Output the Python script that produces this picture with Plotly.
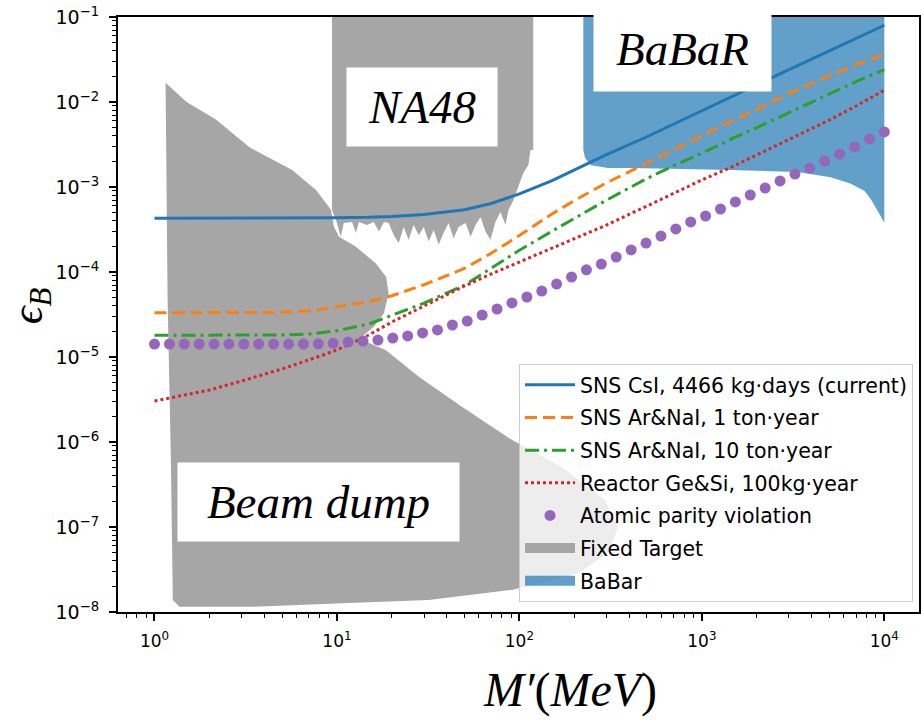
import plotly.graph_objects as go

# ---------------- data ----------------
M_lines = [1, 1.5, 2, 3, 5, 7, 10, 15, 20, 30, 50, 70, 100, 150, 200, 300, 500, 700,
           1000, 1500, 2000, 3000, 5000, 7000, 10000]
sns_csi = [4.3e-4, 4.3e-4, 4.3e-4, 4.3e-4, 4.3e-4, 4.3e-4, 4.35e-4, 4.4e-4, 4.5e-4, 4.75e-4,
           5.4e-4, 6.4e-4, 8.3e-4, 1.18e-3, 1.58e-3, 2.4e-3, 3.9e-3, 5.5e-3,
           7.8e-3, 1.18e-2, 1.58e-2, 2.4e-2, 4.0e-2, 5.6e-2, 8.0e-2]
sns_1ton = [3.31e-5, 3.31e-5, 3.31e-5, 3.33e-5, 3.35e-5, 3.47e-5, 3.89e-5, 4.47e-5, 5.25e-5, 7.08e-5,
            1.10e-4, 1.66e-4, 2.69e-4, 4.79e-4, 6.92e-4, 1.12e-3, 1.91e-3, 2.75e-3,
            3.98e-3, 6.17e-3, 8.22e-3, 1.26e-2, 2.04e-2, 2.75e-2, 3.63e-2]
sns_10ton = [1.8e-5, 1.8e-5, 1.8e-5, 1.8e-5, 1.82e-5, 1.86e-5, 2.04e-5, 2.45e-5, 3.1e-5, 4.3e-5,
             7.0e-5, 1.1e-4, 1.8e-4, 3.0e-4, 4.3e-4, 7.0e-4, 1.26e-3, 1.78e-3,
             2.5e-3, 3.8e-3, 5.0e-3, 7.5e-3, 1.26e-2, 1.74e-2, 2.4e-2]
reactor = [3.03e-6, 3.57e-6, 4.09e-6, 5.22e-6, 7.23e-6, 9.23e-6, 1.21e-5, 1.82e-5, 2.58e-5, 3.98e-5,
           6.84e-5, 9.47e-5, 1.31e-4, 1.87e-4, 2.45e-4, 3.57e-4, 5.97e-4, 8.49e-4,
           1.21e-3, 1.77e-3, 2.38e-3, 3.57e-3, 6.14e-3, 8.98e-3, 1.38e-2]

M_apv = [1.0, 1.207, 1.456, 1.758, 2.121, 2.56, 3.089, 3.728, 4.498, 5.429,
         6.551, 7.906, 9.541, 11.51, 13.89, 16.77, 20.24, 24.42, 29.47, 35.56,
         42.92, 51.79, 62.51, 75.43, 91.03, 109.9, 132.6, 160.0, 193.1, 233.0,
         281.2, 339.3, 409.5, 494.2, 596.4, 719.7, 868.5, 1048.1, 1264.9, 1526.4,
         1842.1, 2223.0, 2682.7, 3237.5, 3906.9, 4714.9, 5689.9, 6866.5, 8286.4, 10000.0]
apv = [1.42e-5, 1.42e-5, 1.42e-5, 1.42e-5, 1.42e-5, 1.42e-5, 1.42e-5, 1.42e-5, 1.42e-5, 1.42e-5,
       1.42e-5, 1.43e-5, 1.45e-5, 1.50e-5, 1.54e-5, 1.58e-5, 1.67e-5, 1.77e-5, 1.92e-5, 2.08e-5,
       2.38e-5, 2.65e-5, 3.12e-5, 3.67e-5, 4.32e-5, 5.08e-5, 5.97e-5, 7.22e-5, 8.73e-5, 1.06e-4,
       1.24e-4, 1.50e-4, 1.82e-4, 2.19e-4, 2.65e-4, 3.21e-4, 3.88e-4, 4.56e-4, 5.51e-4, 6.67e-4,
       8.05e-4, 9.73e-4, 1.18e-3, 1.42e-3, 1.67e-3, 2.02e-3, 2.44e-3, 2.96e-3, 3.67e-3, 4.44e-3]

# Fixed target: beam-dump contour, then NA48 contour (None separates them)
beam_M = [1.15, 1.50, 2.18, 3.30, 5.68, 7.68, 9.27, 9.63, 10.26, 12.65, 16.3, 18.6, 19.2,
          18.1, 15.9, 13.7, 13.7, 18.5, 28.1, 48.4, 90.8, 170, 294, 348, 306, 210, 90.8,
          31.8, 11.6, 3.43, 1.37, 1.26, 1.23, 1.18, 1.15]
beam_eps = [1.68e-2, 1.0e-2, 6.2e-3, 2.95e-3, 1.58e-3, 9.2e-4, 5.4e-4, 3.41e-4, 2.6e-4, 1.99e-4,
            1.27e-4, 8.8e-5, 5.6e-5, 3.27e-5, 2.27e-5, 1.73e-5, 1.58e-5, 1.21e-5, 5.86e-6,
            2.6e-6, 1.06e-6, 5.13e-7, 2.08e-7, 1.01e-7, 4.9e-8, 2.85e-8, 1.82e-8, 1.38e-8,
            1.28e-8, 1.15e-8, 1.15e-8, 1.38e-8, 6.1e-7, 4.7e-5, 1.68e-2]
na48_M = [9.39, 9.39, 9.63, 9.88, 10.5, 10.9, 12.1, 12.7, 13.2, 14.6, 15.9, 17.0, 18.1, 19.2,
          20.5, 21.8, 23.2, 24.7, 26.3, 28.1, 29.9, 31.8, 33.9, 36.1, 38.4, 40.9, 43.6, 46.4,
          50.7, 54.0, 57.5, 61.2, 65.2, 69.4, 73.9, 78.7, 83.8, 87.1, 92.7, 98.8, 105, 112,
          115, 119, 119]
na48_eps = [1.0, 5.36e-4, 4.69e-4, 4.09e-4, 2.6e-4, 3.77e-4, 3.88e-4, 2.9e-4, 3.88e-4,
            3.57e-4, 3.88e-4, 3.0e-4, 3.88e-4, 3.77e-4, 2.7e-4, 2.2e-4, 3.38e-4, 2.4e-4,
            3.57e-4, 2.7e-4, 3.38e-4, 2.3e-4, 3.12e-4, 2.1e-4, 2.88e-4, 3.77e-4, 2.5e-4,
            3.38e-4, 3.77e-4, 2.6e-4, 3.57e-4, 4.44e-4, 3.0e-4, 2.4e-4, 3.88e-4, 5.08e-4,
            3.6e-4, 5.36e-4, 7.0e-4, 1.0e-3, 1.46e-3, 1.82e-3, 2.72e-3, 2.72e-3, 1.0]

babar_M = [224, 224, 229, 247, 306, 409, 1440, 3350, 5070, 6500, 7800, 8500, 9300, 10000, 10000]
babar_eps = [1.0, 2.72e-3, 2.19e-3, 1.8e-3, 1.67e-3, 1.67e-3, 1.58e-3, 1.5e-3, 1.3e-3,
             1.1e-3, 9.0e-4, 7.0e-4, 5.0e-4, 3.8e-4, 1.0]

x_tickvals = [1, 10, 100, 1000, 10000]
x_ticktext = ["10<sup>0</sup>", "10<sup>1</sup>", "10<sup>2</sup>", "10<sup>3</sup>", "10<sup>4</sup>"]
y_tickvals = [1e-8, 1e-7, 1e-6, 1e-5, 1e-4, 1e-3, 1e-2, 1e-1]
y_ticktext = ["10<sup>−8</sup>", "10<sup>−7</sup>", "10<sup>−6</sup>", "10<sup>−5</sup>",
              "10<sup>−4</sup>", "10<sup>−3</sup>", "10<sup>−2</sup>", "10<sup>−1</sup>"]

names = ["SNS CsI, 4466 kg·days (current)", "SNS Ar&NaI, 1 ton·year",
         "SNS Ar&NaI, 10 ton·year", "Reactor Ge&Si, 100kg·year",
         "Atomic parity violation", "Fixed Target", "BaBar"]

GRAY = "#a6a6a6"
BABAR = "rgba(31,119,180,0.7)"

# ---------------- layout helpers ----------------
W, H = 921, 724
PL, PR, PT, PB = 118, 921, 17, 612


def px(x):
    return (x - PL) / (PR - PL)


def py(y):
    return (PB - y) / (PB - PT)


fig = go.Figure()

fig.add_trace(go.Scatter(x=beam_M + [None] + na48_M, y=beam_eps + [None] + na48_eps,
                         mode="lines", fill="toself", fillcolor=GRAY,
                         line=dict(width=0, color=GRAY), showlegend=False, hoverinfo="skip"))
fig.add_trace(go.Scatter(x=babar_M, y=babar_eps, mode="lines", fill="toself",
                         fillcolor=BABAR, line=dict(width=0, color=BABAR),
                         showlegend=False, hoverinfo="skip"))

fig.add_trace(go.Scatter(x=M_lines, y=sns_csi, mode="lines", name=names[0],
                         line=dict(color="#1f77b4", width=3),
                         legendgroup="g1", legendrank=1))
fig.add_trace(go.Scatter(x=M_lines, y=sns_1ton, mode="lines", name=names[1],
                         line=dict(color="#ff7f0e", width=3, dash="12px,6px"),
                         legendgroup="g2", legendrank=2))
fig.add_trace(go.Scatter(x=M_lines, y=sns_10ton, mode="lines", name=names[2],
                         line=dict(color="#2ca02c", width=3, dash="14px,5px,3px,5px"),
                         legendgroup="g3", legendrank=3))
fig.add_trace(go.Scatter(x=M_lines, y=reactor, mode="lines", name=names[3],
                         line=dict(color="#d62728", width=3, dash="3px,3px"),
                         legendgroup="g4", legendrank=4))
fig.add_trace(go.Scatter(x=M_apv, y=apv, mode="markers", name=names[4],
                         marker=dict(color="#9467bd", size=11),
                         legendgroup="g5", legendrank=5))
# legend patches for the filled regions
fig.add_trace(go.Scatter(x=[None], y=[None], mode="lines", name=names[5],
                         line=dict(color=GRAY, width=17), legendgroup="g6", legendrank=6))
fig.add_trace(go.Scatter(x=[None], y=[None], mode="lines", name=names[6],
                         line=dict(color=BABAR, width=17), legendgroup="g7", legendrank=7))

axis_common = dict(type="log", showline=True, linecolor="black", linewidth=2, mirror=True,
                   ticks="outside", ticklen=7, tickwidth=1.5, tickcolor="black",
                   showgrid=False, zeroline=False, ticklabelstandoff=6)

minor_x = [m * 10 ** k for k in range(-1, 5) for m in range(2, 10)]
minor_y = [m * 10.0 ** k for k in range(-9, 0) for m in range(2, 10)]

fig.update_xaxes(**axis_common, range=[-0.2, 4.19], tickmode="array",
                 tickvals=x_tickvals, ticktext=x_ticktext,
                 tickfont=dict(family="DejaVu Sans", size=17, color="black"),
                 minor=dict(tickmode="array", tickvals=minor_x, ticks="outside",
                            ticklen=4, tickwidth=1, tickcolor="black", showgrid=False))
fig.update_yaxes(**axis_common, range=[-8, -1], tickmode="array",
                 tickvals=y_tickvals, ticktext=y_ticktext,
                 tickfont=dict(family="DejaVu Sans", size=19, color="black"),
                 minor=dict(tickmode="array", tickvals=minor_y, ticks="outside",
                            ticklen=4, tickwidth=1, tickcolor="black", showgrid=False))

serif = "Liberation Serif, DejaVu Serif, serif"
annotations = [
    dict(text="<i>NA48</i>", x=px(423), y=py(107), width=150, height=78),
    dict(text="<i>BaBaR</i>", x=px(683.5), y=py(49), width=177, height=84),
    dict(text="<i>Beam dump</i>", x=px(318.5), y=py(502), width=281, height=78),
]
for a in annotations:
    fig.add_annotation(xref="paper", yref="paper", showarrow=False, bgcolor="white",
                       borderpad=0, font=dict(family=serif, size=47, color="black"),
                       xanchor="center", yanchor="middle", **a)

fig.add_annotation(xref="paper", yref="paper", x=px(571), y=py(690), showarrow=False,
                   text="<i>M′</i>(<i>MeV</i>)", font=dict(family=serif, size=48, color="black"),
                   xanchor="center", yanchor="middle")
fig.add_annotation(xref="paper", yref="paper", x=px(30), y=py(306), showarrow=False,
                   text="<i>ϵ<sub>B</sub></i>", textangle=-90,
                   font=dict(family=serif, size=44, color="black"),
                   xanchor="center", yanchor="middle")

fig.update_layout(
    width=W, height=H,
    margin=dict(l=PL, r=W - PR, t=PT, b=H - PB, pad=0),
    paper_bgcolor="white", plot_bgcolor="white",
    showlegend=True,
    legend=dict(x=px(915), y=py(602), xanchor="right", yanchor="bottom",
                bgcolor="rgba(255,255,255,0.8)", bordercolor="#cccccc", borderwidth=1,
                font=dict(family="DejaVu Sans", size=20.5, color="black"),
                traceorder="grouped", tracegroupgap=3, itemwidth=50),
)

fig.write_html("out.html")
